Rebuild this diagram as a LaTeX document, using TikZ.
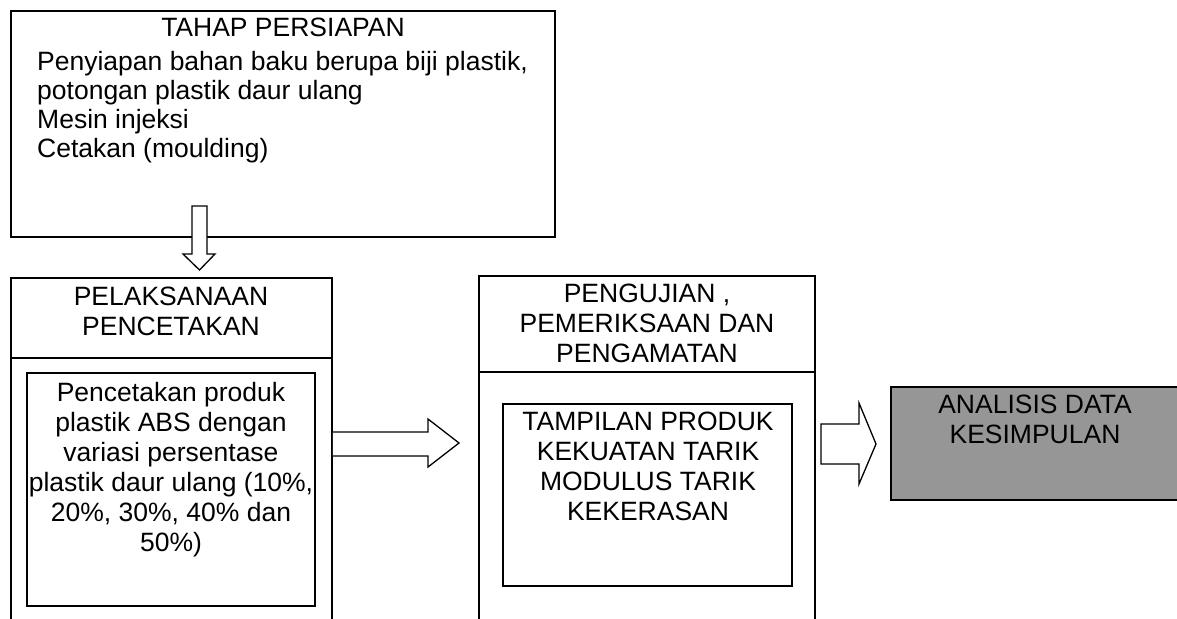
\documentclass[tikz,border=0pt]{standalone}
\usepackage{fontspec}
\setmainfont{Liberation Sans}
\tikzset{
  box/.style={draw, line width=1.5pt, inner sep=0pt},
  label/.style={inner sep=0pt, align=center, font=\fontsize{26.5}{30}\selectfont},
  hollowarrow/.style={draw, fill=white, line width=1.3pt, line join=miter},
}
\begin{document}
\begin{tikzpicture}[x=1pt, y=-1pt]
  \useasboundingbox (0,0) rectangle (1177,618);
  \clip (0,0) rectangle (1177,618);
  % tahap persiapan
  \node[box, minimum width=544pt, minimum height=226pt] (prep) at (283,124) {};
  \node[label, anchor=north] (prepTitle) at (283,18) {TAHAP PERSIAPAN};
  \node[label, anchor=north west, align=left, font=\fontsize{26.5}{29}\selectfont] (prepText) at (37,51) {Penyiapan bahan baku berupa biji plastik,\\potongan plastik daur ulang\\Mesin injeksi\\Cetakan (moulding)};
  % pelaksanaan pencetakan
  \node[box, minimum width=321pt, minimum height=372pt] (exec) at (171.5,464) {};
  \draw[line width=1.5pt] (exec.west |- 0,358) -- (exec.east |- 0,358);
  \node[label, anchor=north] (execTitle) at (171,287) {PELAKSANAAN\\PENCETAKAN};
  \node[box, minimum width=288pt, minimum height=233pt] (execIn) at (171,489.5) {};
  \node[label, anchor=north] (execText) at (171,382) {Pencetakan produk\\plastik ABS dengan\\variasi persentase\\plastik daur ulang (10\%,\\20\%, 30\%, 40\% dan\\50\%)};
  % pengujian
  \node[box, minimum width=336pt, minimum height=374pt] (test) at (647,463) {};
  \draw[line width=1.5pt] (test.west |- 0,372) -- (test.east |- 0,372);
  \node[label, anchor=north] (testTitle) at (647,284) {PENGUJIAN ,\\PEMERIKSAAN DAN\\PENGAMATAN};
  \node[box, minimum width=289pt, minimum height=182pt] (testIn) at (647.5,495) {};
  \node[label, anchor=north] (testText) at (648,412) {TAMPILAN PRODUK\\KEKUATAN TARIK\\MODULUS TARIK\\KEKERASAN};
  % analisis
  \node[box, fill={rgb,255:red,150;green,150;blue,150}, minimum width=296pt, minimum height=113pt] (result) at (1039,443.5) {};
  \node[label, anchor=north] (resultText) at (1035,395) {ANALISIS DATA\\KESIMPULAN};
  % arrows
  \draw[hollowarrow] (192,206) -- (207,206) -- (207,254) -- (215,254) -- (199.5,270) -- (183,254) -- (192,254) -- cycle;
  \draw[hollowarrow] (exec.east |- 0,432) -- (428,432) -- (428,419) -- (459,443) -- (428,467) -- (428,456) -- (exec.east |- 0,456);
  \draw[hollowarrow] (821,424) -- (859,424) -- (859,403) -- (876,444) -- (859,484) -- (859,464) -- (821,464) -- cycle;
\end{tikzpicture}
\end{document}
